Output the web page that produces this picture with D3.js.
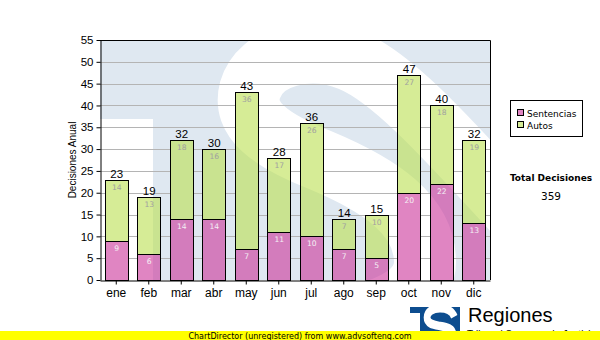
<!DOCTYPE html>
<html>
<head>
<meta charset="utf-8">
<script src="https://cdn.jsdelivr.net/npm/d3@7/dist/d3.min.js"></script>
<style>
  html, body { margin: 0; padding: 0; background: #ffffff; }
  svg { display: block; }
</style>
</head>
<body>
<svg id="chart" width="600" height="340"></svg>
<script>
// Monthly decisions, stacked: Sentencias at the base, Autos on top
const months = ["ene", "feb", "mar", "abr", "may", "jun", "jul", "ago", "sep", "oct", "nov", "dic"];
const sentencias = [9, 6, 14, 14, 7, 11, 10, 7, 5, 20, 22, 13];
const autos = [14, 13, 18, 16, 36, 17, 26, 7, 10, 27, 18, 19];
const yTicks = [0, 5, 10, 15, 20, 25, 30, 35, 40, 45, 50, 55];
const seriesNames = ["Sentencias", "Autos"];
const seriesColors = ["rgba(204,51,153,0.6)", "rgba(187,223,80,0.6)"];
const legendColors = ["#e085c2", "#d6ec96"];

const plot = { left: 100, right: 490, top: 40, bottom: 280 };
const svg = d3.select("#chart");

const x = d3.scaleBand()
  .domain(months)
  .range([plot.left, plot.right])
  .paddingInner(0.29)
  .paddingOuter(0.145);

const y = d3.scaleLinear().domain([0, 55]).range([plot.bottom, plot.top]);

const rows = months.map((m, i) => ({
  month: m,
  segs: [
    { key: 0, y0: 0, y1: sentencias[i], v: sentencias[i] },
    { key: 1, y0: sentencias[i], y1: sentencias[i] + autos[i], v: autos[i] }
  ],
  total: sentencias[i] + autos[i]
}));

const defs = svg.append("defs");
defs.append("clipPath").attr("id", "plotClip")
  .append("rect")
  .attr("x", plot.left).attr("y", plot.top)
  .attr("width", plot.right - plot.left).attr("height", plot.bottom - plot.top);

// Grid is hidden wherever a bar sits
const gridMask = defs.append("mask").attr("id", "gridMask");
gridMask.append("rect").attr("x", 0).attr("y", 0).attr("width", 600).attr("height", 340).attr("fill", "#fff");
gridMask.selectAll("rect.hole").data(rows).join("rect")
  .attr("class", "hole")
  .attr("x", d => Math.round(x(d.month)))
  .attr("y", d => Math.round(y(d.total)))
  .attr("width", Math.round(x.bandwidth()))
  .attr("height", d => Math.round(y(0)) - Math.round(y(d.total)))
  .attr("fill", "#000");

// Large faded S of the emblem behind the plot
const bigS = "M530,228 C470,165 400,80 350,60 C310,44 260,55 250,90 " +
  "C242,120 270,140 320,160 C380,185 425,215 425,262 C425,300 370,320 300,322";
// Small S of the emblem (unit box)
const sGlyph = "M0.92,0.28 C0.85,0.12 0.68,0.08 0.5,0.08 C0.28,0.08 0.12,0.16 0.12,0.3 " +
  "C0.12,0.45 0.3,0.47 0.5,0.5 C0.72,0.53 0.88,0.56 0.88,0.7 " +
  "C0.88,0.84 0.7,0.92 0.5,0.92 C0.3,0.92 0.15,0.86 0.08,0.72";

// Plot background: faded emblem
const bg = svg.append("g").attr("clip-path", "url(#plotClip)");
bg.append("rect")
  .attr("x", plot.left).attr("y", plot.top)
  .attr("width", plot.right - plot.left).attr("height", plot.bottom - plot.top)
  .attr("fill", "#dfe8f1");
bg.append("rect")
  .attr("x", plot.left).attr("y", 119)
  .attr("width", 53).attr("height", plot.bottom - 119)
  .attr("fill", "#ffffff");
bg.append("path")
  .attr("d", bigS)
  .attr("fill", "none")
  .attr("stroke", "#ffffff")
  .attr("stroke-width", 62)
  .attr("stroke-linecap", "round");

// Horizontal grid
svg.append("g").attr("mask", "url(#gridMask)")
  .selectAll("line").data(yTicks.filter(t => t > 0 && t < 55)).join("line")
  .attr("x1", plot.left).attr("x2", plot.right)
  .attr("y1", d => Math.round(y(d)) + 0.5).attr("y2", d => Math.round(y(d)) + 0.5)
  .attr("stroke", "#b4b4b4").attr("stroke-width", 1);

// Stacked bars
const barG = svg.append("g");
rows.forEach(r => {
  const bx = Math.round(x(r.month)) + 0.5;
  const bw = Math.round(x.bandwidth());
  r.segs.forEach(s => {
    const top = Math.round(y(s.y1)) + 0.5;
    const bot = Math.round(y(s.y0)) + 0.5;
    barG.append("rect")
      .attr("x", bx).attr("y", top)
      .attr("width", bw).attr("height", bot - top)
      .attr("fill", seriesColors[s.key])
      .attr("stroke", "#000").attr("stroke-width", 1);
  });
});

// Segment value labels
const segLabels = svg.append("g")
  .attr("font-family", "'DejaVu Sans', Verdana, sans-serif")
  .attr("font-size", 7.6)
  .attr("text-anchor", "middle");
rows.forEach(r => {
  r.segs.forEach(s => {
    segLabels.append("text")
      .attr("x", x(r.month) + x.bandwidth() / 2 + 0.5)
      .attr("y", y(s.y1) + 10)
      .attr("fill", s.key === 0 ? "#f4f0f4" : "#a0a0a0")
      .text(s.v);
  });
});

// Totals above bars
svg.append("g")
  .attr("font-family", "'Liberation Sans', Arial, sans-serif")
  .attr("font-size", 11.5)
  .attr("text-anchor", "middle")
  .selectAll("text").data(rows).join("text")
  .attr("x", d => x(d.month) + x.bandwidth() / 2 + 0.5)
  .attr("y", d => y(d.total) - 2)
  .attr("fill", "#000")
  .text(d => d.total);

// Plot frame (top and right)
svg.append("path")
  .attr("d", `M${plot.left},${plot.top + 0.5}H${plot.right + 0.5}V${plot.bottom}`)
  .attr("fill", "none").attr("stroke", "#000").attr("stroke-width", 1);

// Axes
const yAxis = svg.append("g")
  .attr("transform", `translate(${plot.left + 0.5},0)`)
  .call(d3.axisLeft(y).tickValues(yTicks).tickSize(4).tickSizeOuter(0).tickPadding(3));
const xAxis = svg.append("g")
  .attr("transform", `translate(0,${plot.bottom + 0.5})`)
  .call(d3.axisBottom(x).tickSize(4).tickSizeOuter(0).tickPadding(4));
[yAxis, xAxis].forEach(a => {
  a.select(".domain").attr("stroke", "#000");
  a.selectAll(".tick line").attr("stroke", "#000");
  a.selectAll(".tick text")
    .attr("fill", "#000")
    .attr("font-family", "'Liberation Sans', Arial, sans-serif");
});
yAxis.selectAll(".tick text").attr("font-size", 11.5);
xAxis.selectAll(".tick text").attr("font-size", 12);

// Y axis title
svg.append("text")
  .attr("transform", "translate(76,160) rotate(-90)")
  .attr("text-anchor", "middle")
  .attr("font-family", "'Liberation Sans', Arial, sans-serif")
  .attr("font-size", 10)
  .attr("fill", "#000")
  .text("Decisiones Anual");

// Legend
const legend = svg.append("g");
legend.append("rect")
  .attr("x", 510.5).attr("y", 100.5).attr("width", 72).attr("height", 36)
  .attr("fill", "#fff").attr("stroke", "#000");
seriesNames.forEach((name, i) => {
  legend.append("rect")
    .attr("x", 517.5).attr("y", 109.5 + i * 12).attr("width", 6).attr("height", 6)
    .attr("fill", legendColors[i]).attr("stroke", "#000");
  legend.append("text")
    .attr("x", 527).attr("y", 117 + i * 12)
    .attr("font-family", "'DejaVu Sans', Verdana, sans-serif")
    .attr("font-size", 9)
    .attr("fill", "#000")
    .text(name);
});

// Grand total
const grandTotal = d3.sum(sentencias) + d3.sum(autos);
svg.append("text")
  .attr("x", 551).attr("y", 181)
  .attr("text-anchor", "middle")
  .attr("font-family", "'DejaVu Sans', Verdana, sans-serif")
  .attr("font-weight", "bold")
  .attr("font-size", 9)
  .attr("fill", "#000")
  .text("Total Decisiones");
svg.append("text")
  .attr("x", 551).attr("y", 200)
  .attr("text-anchor", "middle")
  .attr("font-family", "'DejaVu Sans', Verdana, sans-serif")
  .attr("font-size", 10.5)
  .attr("fill", "#000")
  .text(grandTotal);

// Emblem and name at the bottom right
const emblem = svg.append("g");
emblem.append("path")
  .attr("d", "M410,307H460V345H420V313H410Z")
  .attr("fill", "#0d4d8f");
emblem.append("path")
  .attr("d", sGlyph)
  .attr("transform", "translate(423,305) scale(34,42)")
  .attr("fill", "none")
  .attr("stroke", "#fff")
  .attr("stroke-width", 0.2)
  .attr("stroke-linecap", "butt");
emblem.append("text")
  .attr("x", 468).attr("y", 322)
  .attr("font-family", "'Liberation Sans', Arial, sans-serif")
  .attr("font-size", 20)
  .attr("fill", "#000")
  .text("Regiones");
emblem.append("text")
  .attr("x", 467).attr("y", 338)
  .attr("font-family", "'Liberation Sans', Arial, sans-serif")
  .attr("font-size", 10)
  .attr("fill", "#000")
  .text("Tribunal Supremo de Justicia");

// Footer strip
svg.append("rect")
  .attr("x", 0).attr("y", 331).attr("width", 600).attr("height", 9)
  .attr("fill", "#ffff00");
svg.append("text")
  .attr("x", 300).attr("y", 339)
  .attr("text-anchor", "middle")
  .attr("font-family", "'DejaVu Sans', Verdana, sans-serif")
  .attr("font-size", 8)
  .attr("fill", "#000")
  .text("ChartDirector (unregistered) from www.advsofteng.com");
</script>
</body>
</html>
